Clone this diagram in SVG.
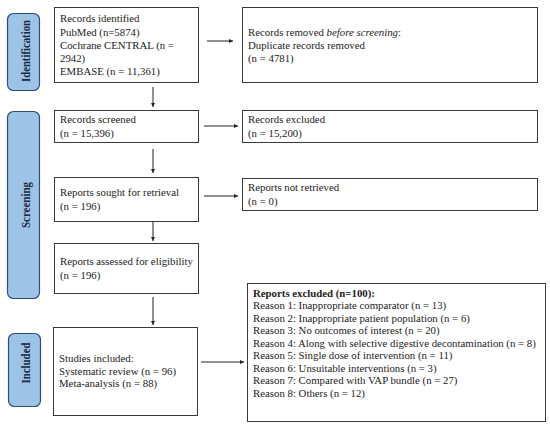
<svg xmlns="http://www.w3.org/2000/svg" width="550" height="426" viewBox="0 0 550 426">
<style>
.bg{fill:#ffffff}
.box{fill:#ffffff;stroke:#3a3a3a;stroke-width:1}
.phase{fill:#9dc3e6;stroke:#2f4f6f;stroke-width:1.2}
.pt{font-family:"Liberation Serif","Times New Roman",serif;font-size:13px;font-weight:bold;fill:#1a2840;text-anchor:middle}
.t{font-family:"Liberation Serif","Times New Roman",serif;font-size:10.8px;fill:#222}
.b{font-weight:bold}
.edge{stroke:#222;stroke-width:1;fill:none;marker-end:url(#ah)}
</style>
<defs>
<marker id="ah" viewBox="0 0 10 10" refX="10" refY="5" markerWidth="4" markerHeight="4" orient="auto" markerUnits="userSpaceOnUse">
<path d="M0,0 L10,5 L0,10 z" fill="#222"/>
</marker>
</defs>
<rect class="bg" width="550" height="426"/>
<g id="phase-identification">
<rect class="phase" x="7.5" y="13.5" width="32" height="77" rx="6"/>
<text class="pt" transform="translate(29.5,51) rotate(-90)" textLength="62" lengthAdjust="spacingAndGlyphs">Identification</text>
</g>
<g id="phase-screening">
<rect class="phase" x="7.5" y="111.5" width="32" height="187" rx="6"/>
<text class="pt" transform="translate(29.5,205) rotate(-90)" textLength="46" lengthAdjust="spacingAndGlyphs">Screening</text>
</g>
<g id="phase-included">
<rect class="phase" x="8.5" y="333.5" width="32" height="73" rx="6"/>
<text class="pt" transform="translate(30,363) rotate(-90)" textLength="41" lengthAdjust="spacingAndGlyphs">Included</text>
</g>
<g id="identified">
<rect class="box" x="54.5" y="7.5" width="144" height="75"/>
<text class="t" x="60" y="22">Records identified</text>
<text class="t" x="60" y="36">PubMed (n=5874)</text>
<text class="t" x="60" y="49">Cochrane CENTRAL (n =</text>
<text class="t" x="60" y="62">2942)</text>
<text class="t" x="60" y="75">EMBASE (n = 11,361)</text>
</g>
<g id="removed">
<rect class="box" x="242.5" y="7.5" width="295" height="75"/>
<text class="t" x="248" y="36">Records removed <tspan font-style="italic">before screening</tspan>:</text>
<text class="t" x="248" y="49">Duplicate records removed</text>
<text class="t" x="248" y="62">(n = 4781)</text>
</g>
<g id="screened">
<rect class="box" x="54.5" y="110.5" width="144" height="32"/>
<text class="t" x="60" y="123">Records screened</text>
<text class="t" x="60" y="137">(n = 15,396)</text>
</g>
<g id="excluded">
<rect class="box" x="242.5" y="110.5" width="295" height="32"/>
<text class="t" x="248" y="123">Records excluded</text>
<text class="t" x="248" y="137">(n = 15,200)</text>
</g>
<g id="sought">
<rect class="box" x="54.5" y="177.5" width="144" height="44"/>
<text class="t" x="60" y="196">Reports sought for retrieval</text>
<text class="t" x="60" y="210">(n = 196)</text>
</g>
<g id="notretrieved">
<rect class="box" x="242.5" y="178.5" width="295" height="32"/>
<text class="t" x="248" y="191">Reports not retrieved</text>
<text class="t" x="248" y="205">(n = 0)</text>
</g>
<g id="assessed">
<rect class="box" x="54.5" y="243.5" width="144" height="50"/>
<text class="t" x="60" y="265">Reports assessed for eligibility</text>
<text class="t" x="60" y="279">(n = 196)</text>
</g>
<g id="included">
<rect class="box" x="53.5" y="327.5" width="144" height="88"/>
<text class="t" x="59" y="362">Studies included:</text>
<text class="t" x="59" y="375">Systematic review (n = 96)</text>
<text class="t" x="59" y="387">Meta-analysis (n = 88)</text>
</g>
<g id="reportsexcluded">
<rect class="box" x="247.5" y="283.5" width="298" height="138"/>
<text class="t b" x="253" y="297">Reports excluded (n=100):</text>
<text class="t" x="253" y="309">Reason 1: Inappropriate comparator (n = 13)</text>
<text class="t" x="253" y="321.5">Reason 2: Inappropriate patient population (n = 6)</text>
<text class="t" x="253" y="334">Reason 3: No outcomes of interest (n = 20)</text>
<text class="t" x="253" y="346.5">Reason 4: Along with selective digestive decontamination (n = 8)</text>
<text class="t" x="253" y="359">Reason 5: Single dose of intervention (n = 11)</text>
<text class="t" x="253" y="371.5">Reason 6: Unsuitable interventions (n = 3)</text>
<text class="t" x="253" y="384">Reason 7: Compared with VAP bundle (n = 27)</text>
<text class="t" x="253" y="396.5">Reason 8: Others (n = 12)</text>
</g>
<g id="connectors">
<line class="edge" x1="207" y1="41" x2="233" y2="41"/>
<line class="edge" x1="153" y1="87" x2="153" y2="107"/>
<line class="edge" x1="204" y1="126" x2="238" y2="126"/>
<line class="edge" x1="153" y1="149" x2="153" y2="173"/>
<line class="edge" x1="204" y1="196" x2="238" y2="196"/>
<line class="edge" x1="153" y1="222" x2="153" y2="241"/>
<line class="edge" x1="153" y1="297" x2="153" y2="325"/>
<line class="edge" x1="201" y1="362" x2="244" y2="362"/>
</g>
</svg>
